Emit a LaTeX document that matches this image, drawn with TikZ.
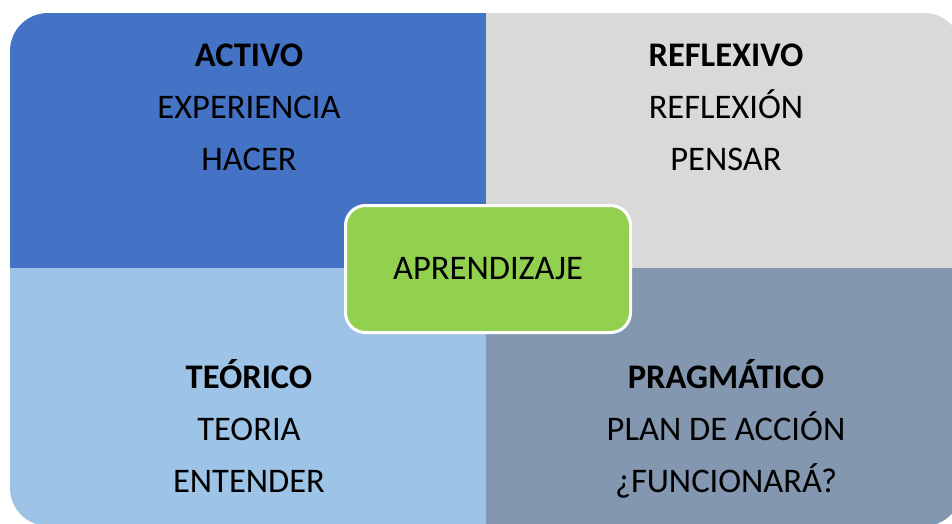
\documentclass[tikz,border=0pt]{standalone}
\usepackage{fontspec}
\setmainfont{Carlito}
\usepackage{tikz}
\usetikzlibrary{positioning}
\definecolor{activo}{HTML}{4472C4}
\definecolor{reflexivo}{HTML}{D9D9D9}
\definecolor{teorico}{HTML}{9DC3E6}
\definecolor{pragmatico}{HTML}{8497B0}
\definecolor{centro}{HTML}{92D050}
\tikzset{
    title/.style={inner sep=0pt, text height=24pt, text depth=8pt, font=\fontsize{34.5}{40}\selectfont\bfseries},
    line/.style={inner sep=0pt, text height=24pt, text depth=8pt, font=\fontsize{34.5}{40}\selectfont},
    hub/.style={rectangle, rounded corners=20pt, draw=white, line width=3pt, fill=centro, minimum width=285pt, minimum height=127pt, font=\fontsize{34.5}{40}\selectfont}
}
\begin{document}
\begin{tikzpicture}[x=1pt, y=-1pt, node distance=20pt]
    \useasboundingbox (0,0) rectangle (952,523);
    % Quadrants
    \begin{scope}
        \clip[rounded corners=38pt] (10,13) rectangle (962,526);
        \fill[activo] (10,13) rectangle (486,268);
        \fill[reflexivo] (486,13) rectangle (962,268);
        \fill[teorico] (10,268) rectangle (486,526);
        \fill[pragmatico] (486,268) rectangle (962,526);
    \end{scope}
    % Activo
    \node (activo) [title] at (249,58) {ACTIVO};
    \node (experiencia) [line, below=of activo] {EXPERIENCIA};
    \node (hacer) [line, below=of experiencia] {HACER};
    % Reflexivo
    \node (reflexivo) [title] at (726,58) {REFLEXIVO};
    \node (reflexion) [line, below=of reflexivo] {REFLEXIÓN};
    \node (pensar) [line, below=of reflexion] {PENSAR};
    % Teorico
    \node (teorico) [title] at (249,380) {TEÓRICO};
    \node (teoria) [line, below=of teorico] {TEORIA};
    \node (entender) [line, below=of teoria] {ENTENDER};
    % Pragmatico
    \node (pragmatico) [title] at (726,380) {PRAGMÁTICO};
    \node (plan) [line, below=of pragmatico] {PLAN DE ACCIÓN};
    \node (funciona) [line, below=of plan] {¿FUNCIONARÁ?};
    % Centre
    \node (aprendizaje) [hub] at (488,269) {APRENDIZAJE};
\end{tikzpicture}
\end{document}
